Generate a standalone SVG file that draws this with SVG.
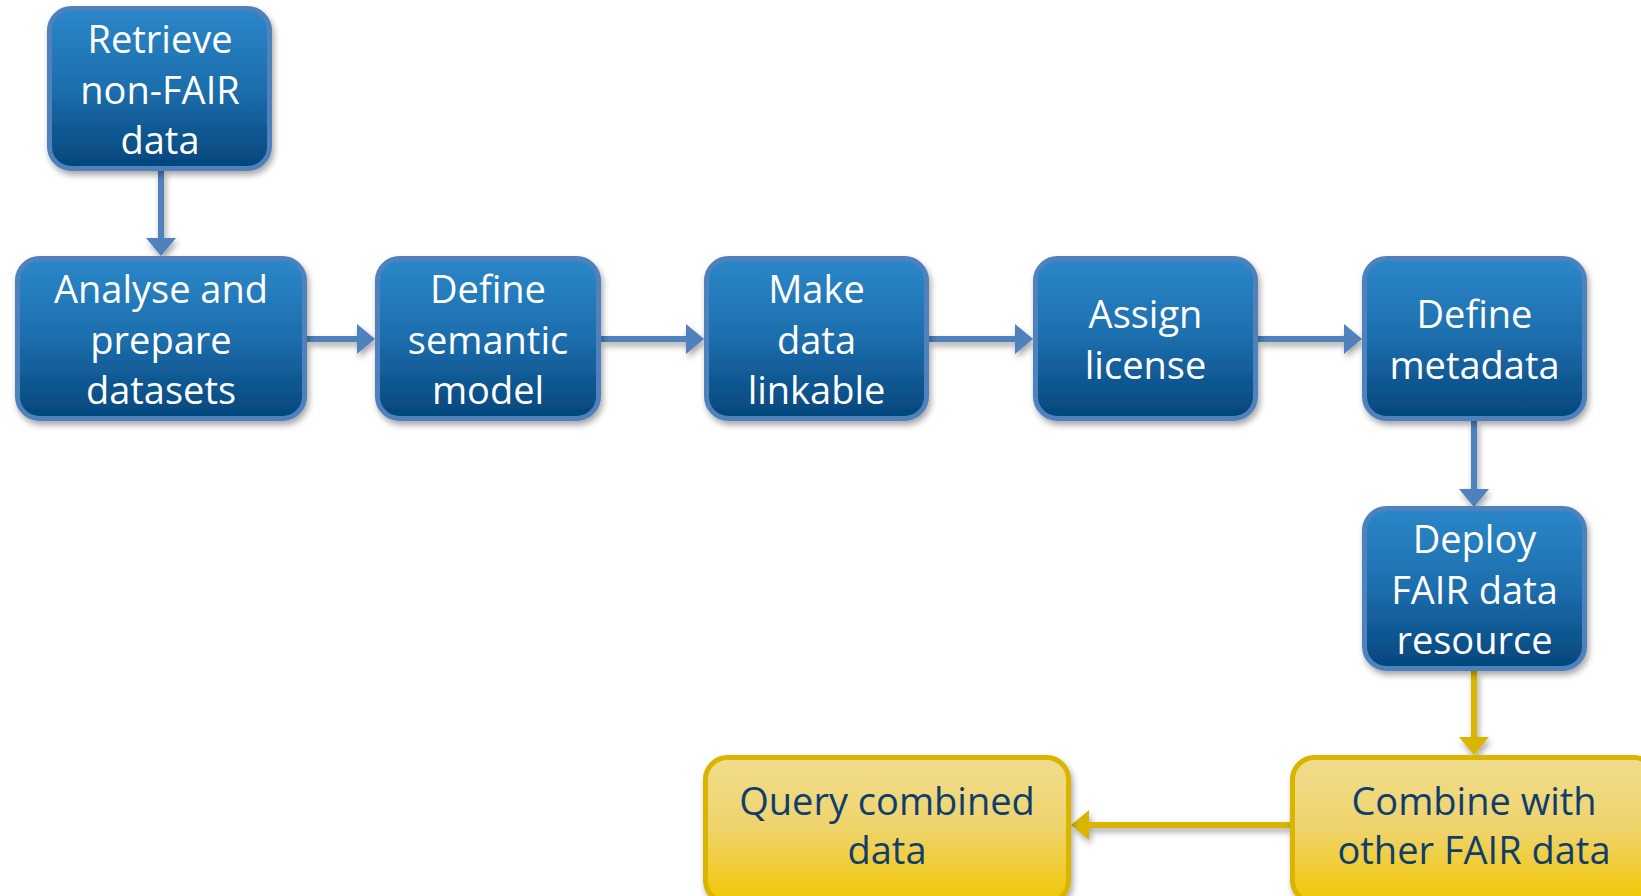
<svg xmlns="http://www.w3.org/2000/svg" width="1641" height="896" viewBox="0 0 1641 896">
  <defs>
    <linearGradient id="gBlue" x1="0" y1="0" x2="0" y2="1">
      <stop offset="0" stop-color="#2B87C8"/>
      <stop offset="0.5" stop-color="#1D6EAD"/>
      <stop offset="1" stop-color="#03457B"/>
    </linearGradient>
    <linearGradient id="gGold" x1="0" y1="0" x2="0" y2="1">
      <stop offset="0" stop-color="#F0DC8E"/>
      <stop offset="0.5" stop-color="#EFD36A"/>
      <stop offset="1" stop-color="#F1C700"/>
    </linearGradient>
    <filter id="shadow" x="-20%" y="-20%" width="140%" height="140%">
      <feDropShadow dx="2" dy="4" stdDeviation="3" flood-color="#000" flood-opacity="0.35"/>
    </filter>
    <marker id="arrBlue" markerUnits="userSpaceOnUse" markerWidth="18" markerHeight="30" viewBox="0 0 18 30" refX="0" refY="15" orient="auto">
      <path d="M0,0 L18,15 L0,30 z" fill="#4F81BD"/>
    </marker>
    <marker id="arrGold" markerUnits="userSpaceOnUse" markerWidth="18" markerHeight="30" viewBox="0 0 18 30" refX="0" refY="15" orient="auto">
      <path d="M0,0 L18,15 L0,30 z" fill="#D9B500"/>
    </marker>
  </defs>
  <style>
    .blue rect { fill: url(#gBlue); stroke: #4F81BD; stroke-width: 5; filter: url(#shadow); }
    .gold rect { fill: url(#gGold); stroke: #D9B500; stroke-width: 5; filter: url(#shadow); }
    .blue text { fill: #FFFFFF; }
    .gold text { fill: #0F3D6E; }
    text { font-family: "Open Sans", "Noto Sans", sans-serif; font-size: 38px; text-anchor: middle; }
    .cb { stroke: #4F81BD; stroke-width: 6; fill: none; marker-end: url(#arrBlue); }
    .cg { stroke: #D9B500; stroke-width: 6; fill: none; marker-end: url(#arrGold); }
    #connectors { filter: url(#shadow); }
  </style>
  <rect width="1641" height="896" fill="#FFFFFF"/>

  <g id="connectors">
    <line class="cb" x1="161" y1="171" x2="161" y2="238"/>
    <line class="cb" x1="307" y1="339" x2="357" y2="339"/>
    <line class="cb" x1="601" y1="339" x2="686" y2="339"/>
    <line class="cb" x1="929" y1="339" x2="1015" y2="339"/>
    <line class="cb" x1="1258" y1="339" x2="1344" y2="339"/>
    <line class="cb" x1="1474" y1="421" x2="1474" y2="489"/>
    <line class="cg" x1="1474" y1="671" x2="1474" y2="737"/>
    <line class="cg" x1="1290" y1="825" x2="1089" y2="825"/>
  </g>

  <g id="node-retrieve" class="blue">
    <rect x="49.5" y="8.5" width="220" height="160" rx="22"/>
    <text x="160" y="53">Retrieve</text>
    <text x="160" y="104">non-FAIR</text>
    <text x="160" y="154">data</text>
  </g>

  <g id="node-analyse" class="blue">
    <rect x="17.5" y="258.5" width="287" height="160" rx="22"/>
    <text x="161" y="303">Analyse and</text>
    <text x="161" y="354">prepare</text>
    <text x="161" y="404">datasets</text>
  </g>

  <g id="node-semantic" class="blue">
    <rect x="377.5" y="258.5" width="221" height="160" rx="22"/>
    <text x="488" y="303">Define</text>
    <text x="488" y="354">semantic</text>
    <text x="488" y="404">model</text>
  </g>

  <g id="node-linkable" class="blue">
    <rect x="706.5" y="258.5" width="220" height="160" rx="22"/>
    <text x="816.5" y="303">Make</text>
    <text x="816.5" y="354">data</text>
    <text x="816.5" y="404">linkable</text>
  </g>

  <g id="node-license" class="blue">
    <rect x="1035.5" y="258.5" width="220" height="160" rx="22"/>
    <text x="1145.5" y="328">Assign</text>
    <text x="1145.5" y="379">license</text>
  </g>

  <g id="node-metadata" class="blue">
    <rect x="1364.5" y="258.5" width="220" height="160" rx="22"/>
    <text x="1474.5" y="328">Define</text>
    <text x="1474.5" y="379">metadata</text>
  </g>

  <g id="node-deploy" class="blue">
    <rect x="1364.5" y="508.5" width="220" height="160" rx="22"/>
    <text x="1474.5" y="553">Deploy</text>
    <text x="1474.5" y="604">FAIR data</text>
    <text x="1474.5" y="654">resource</text>
  </g>

  <g id="node-combine" class="gold">
    <rect x="1292.5" y="757.5" width="363" height="145" rx="22"/>
    <text x="1474" y="815">Combine with</text>
    <text x="1474" y="864">other FAIR data</text>
  </g>

  <g id="node-query" class="gold">
    <rect x="705.5" y="757.5" width="363" height="145" rx="22"/>
    <text x="887" y="815">Query combined</text>
    <text x="887" y="864">data</text>
  </g>
</svg>
